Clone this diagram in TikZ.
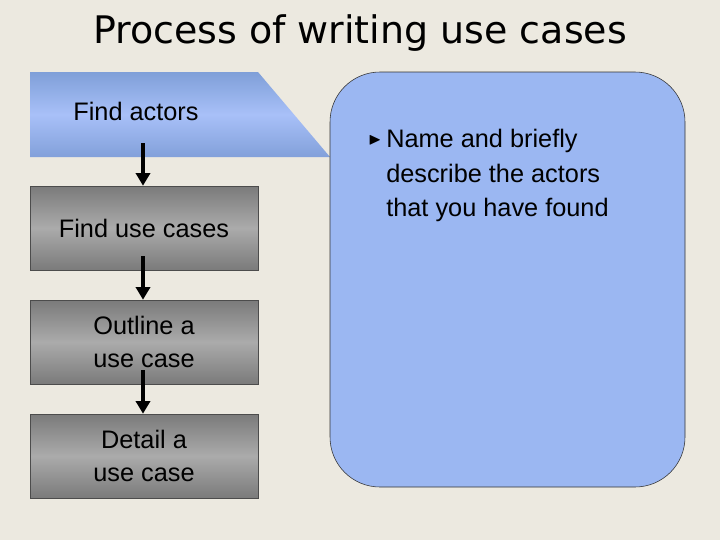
\documentclass[tikz,border=0pt]{standalone}
\usepackage{amssymb}
\usepackage{fontspec}
\setmainfont{Liberation Sans}
\newfontfamily\titlefont{DejaVu Sans}
\usetikzlibrary{arrows.meta}
\definecolor{bgcol}{HTML}{ECE9E0}
\definecolor{panelblue}{HTML}{9BB7F2}
\tikzset{
  usebox/.style = {draw = black!70, minimum width = 228*0.025cm, minimum height = 84*0.025cm,
    top color = black!52, bottom color = black!52, middle color = black!33,
    align = center, font = \fontsize{18}{23}\selectfont, inner sep = 0pt},
  flow/.style = {-{Triangle[length = 9pt, width = 10pt]}, line width = 3pt},
}
\begin{document}
\begin{tikzpicture}[x = 0.025cm, y = -0.025cm]
    %% background
    \fill[bgcol] (0, 0) rectangle (720, 540);
    \useasboundingbox (0, 0) rectangle (720, 540);

    %% title
    \node (title) at (360, 33) {\titlefont\fontsize{27}{30}\selectfont Process of writing use cases};

    %% blue tab and panel
    \shade[top color = {rgb,255:red,127;green,159;blue,216}, bottom color = {rgb,255:red,130;green,160;blue,218},
        middle color = {rgb,255:red,168;green,192;blue,248}]
        (30, 72) -- (258, 72) -- (330, 157) -- (30, 157) -- cycle;
    \node[font = \fontsize{18}{23}\selectfont] (actors) at (136, 111) {Find actors};
    \draw[black!80, fill = panelblue, rounded corners = 50*0.025cm] (330, 72) rectangle (685, 487);
    \node[anchor = north west, align = left, font = \fontsize{18}{24.5}\selectfont, inner sep = 0pt]
        (notes) at (386, 129) {Name and briefly\\describe the actors\\that you have found};
    \node[anchor = north east, inner sep = 0pt, font = \fontsize{12}{12}\selectfont] (bullet)
        at ([xshift = -3pt, yshift = -4pt]notes.north west) {$\blacktriangleright$};

    %% steps
    \node[usebox] (usecases) at (144, 228) {Find use cases};
    \node[usebox] (outline) at (144, 342) {Outline a\\use case};
    \node[usebox] (detail) at (144, 456) {Detail a\\use case};

    %% arrows
    \coordinate (a1) at (143, 143);
    \draw[flow] (a1) -- (usecases.north -| a1);
    \draw[flow] ([yshift = 10pt]usecases.south -| a1) -- (outline.north -| a1);
    \draw[flow] ([yshift = 10pt]outline.south -| a1) -- (detail.north -| a1);
\end{tikzpicture}
\end{document}
